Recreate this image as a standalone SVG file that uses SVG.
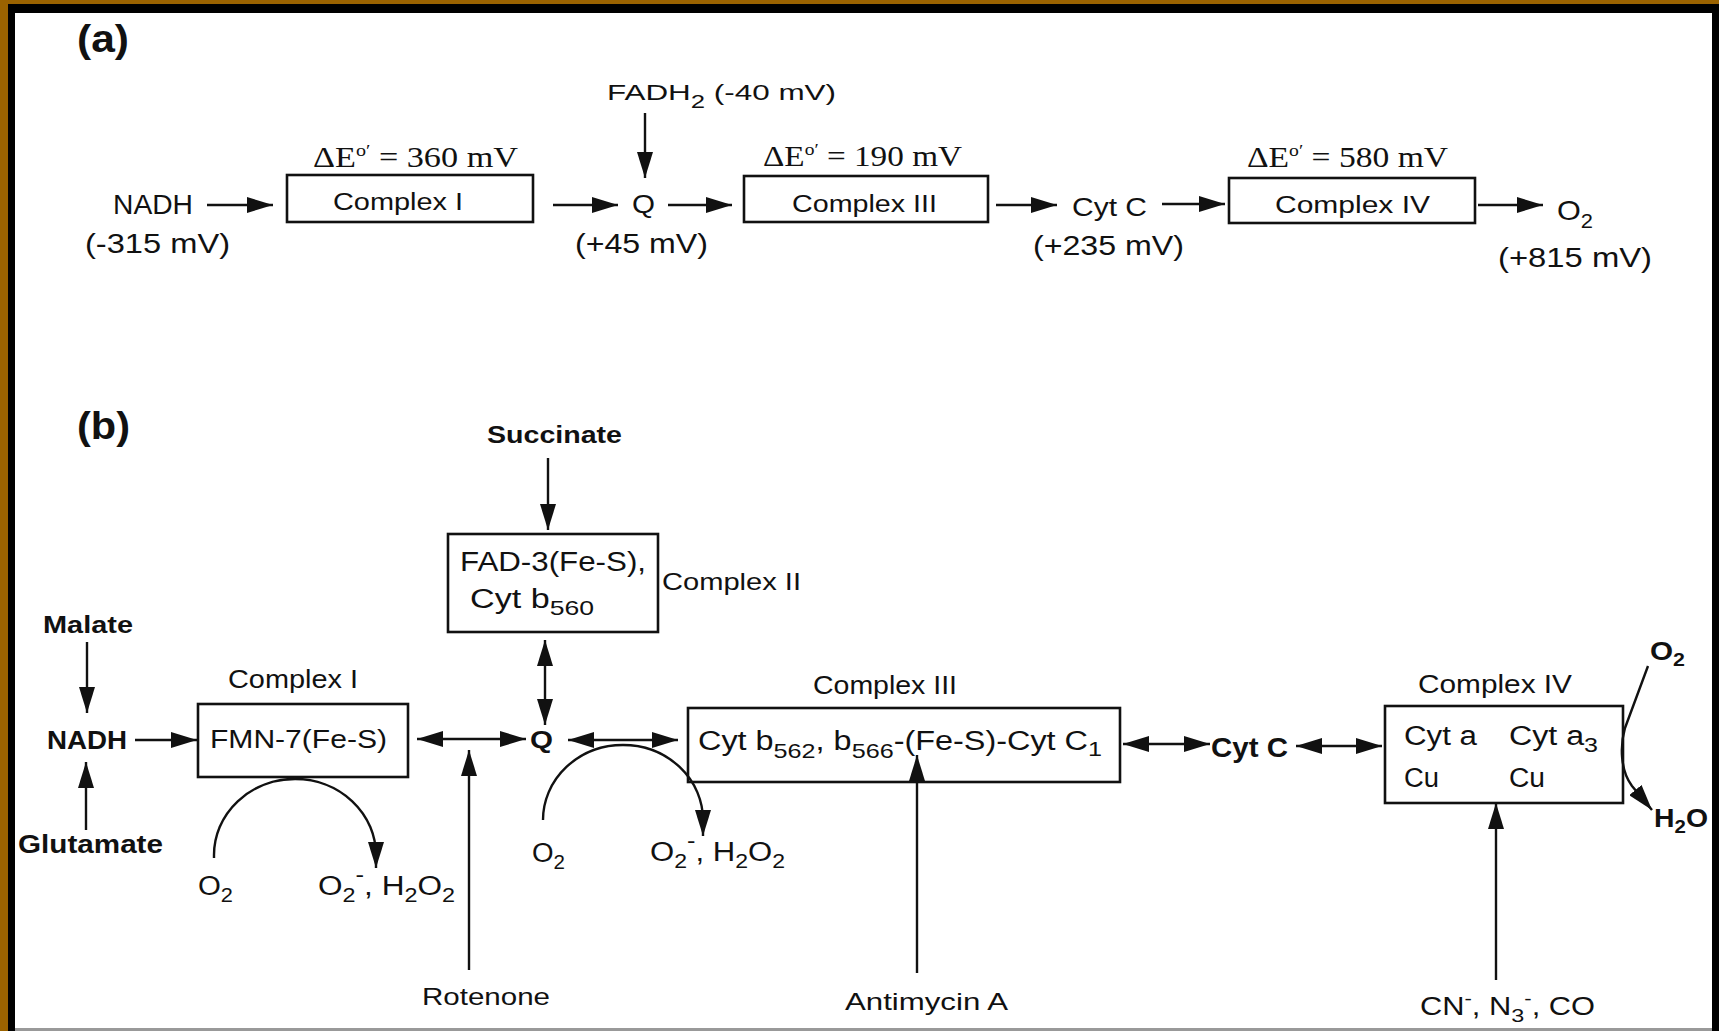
<svg xmlns="http://www.w3.org/2000/svg" width="1719" height="1031" viewBox="0 0 1719 1031">
<style>
text{font-family:"Liberation Sans",Arial,sans-serif;fill:#111}
.b{font-weight:bold}
.s{font-family:"Liberation Serif","Times New Roman",serif}
.box{fill:none;stroke:#111;stroke-width:2.6}
.c{fill:none;stroke:#111;stroke-width:2.4}
.a{marker-end:url(#ah)}
.d{marker-start:url(#ah);marker-end:url(#ah)}
</style>
<defs>
<marker id="ah" viewBox="0 0 26 16" refX="26" refY="8" markerWidth="26" markerHeight="16" markerUnits="userSpaceOnUse" orient="auto-start-reverse"><path d="M0,0 L26,8 L0,16 z" fill="#111"/></marker>
</defs>
<g id="frame">
<rect x="0" y="0" width="1719" height="1031" fill="#9b6300"/>
<rect x="8" y="4" width="1711" height="1027" fill="#000"/>
<rect x="15" y="13" width="1697" height="1015" fill="#fff"/>
<rect x="15" y="1028" width="1697" height="3" fill="#999"/>
</g>
<g id="labels">
<text class="b" x="77" y="52" font-size="38" textLength="52" lengthAdjust="spacingAndGlyphs">(a)</text>
<text class="b" x="77" y="439" font-size="38" textLength="53" lengthAdjust="spacingAndGlyphs">(b)</text>
</g>
<g id="a-nadh"><text x="113" y="214" font-size="28" textLength="80" lengthAdjust="spacingAndGlyphs">NADH</text><text x="85" y="253" font-size="28" textLength="145" lengthAdjust="spacingAndGlyphs">(-315 mV)</text></g>
<g id="a-complex1"><rect class="box" x="287" y="175" width="246" height="47"/><text x="333" y="210" font-size="23" textLength="130" lengthAdjust="spacingAndGlyphs">Complex I</text><text class="s" x="313" y="167" font-size="29" textLength="205" lengthAdjust="spacingAndGlyphs">ΔE<tspan font-size="17" dy="-11">o′</tspan><tspan dy="11"> = 360 mV</tspan></text></g>
<g id="a-fadh2"><text x="607" y="100" font-size="22" textLength="229" lengthAdjust="spacingAndGlyphs">FADH<tspan font-size="18" dy="8">2</tspan><tspan dy="-8"> (-40 mV)</tspan></text></g>
<g id="a-q"><text x="632" y="213" font-size="25" textLength="23" lengthAdjust="spacingAndGlyphs">Q</text><text x="575" y="253" font-size="28" textLength="133" lengthAdjust="spacingAndGlyphs">(+45 mV)</text></g>
<g id="a-complex3"><rect class="box" x="744" y="176" width="244" height="46"/><text x="792" y="212" font-size="23" textLength="145" lengthAdjust="spacingAndGlyphs">Complex III</text><text class="s" x="763" y="166" font-size="29" textLength="199" lengthAdjust="spacingAndGlyphs">ΔE<tspan font-size="17" dy="-11">o′</tspan><tspan dy="11"> = 190 mV</tspan></text></g>
<g id="a-cytc"><text x="1072" y="216" font-size="26" textLength="75" lengthAdjust="spacingAndGlyphs">Cyt C</text><text x="1033" y="255" font-size="28" textLength="151" lengthAdjust="spacingAndGlyphs">(+235 mV)</text></g>
<g id="a-complex4"><rect class="box" x="1229" y="178" width="246" height="45"/><text x="1275" y="213" font-size="23" textLength="155" lengthAdjust="spacingAndGlyphs">Complex IV</text><text class="s" x="1247" y="167" font-size="29" textLength="201" lengthAdjust="spacingAndGlyphs">ΔE<tspan font-size="17" dy="-11">o′</tspan><tspan dy="11"> = 580 mV</tspan></text></g>
<g id="a-o2"><text x="1557" y="220" font-size="28" textLength="36" lengthAdjust="spacingAndGlyphs">O<tspan font-size="20" dy="8">2</tspan></text><text x="1498" y="267" font-size="28" textLength="154" lengthAdjust="spacingAndGlyphs">(+815 mV)</text></g>

<g id="b-succinate"><text class="b" x="487" y="443" font-size="23" textLength="135" lengthAdjust="spacingAndGlyphs">Succinate</text></g>
<g id="b-complex2"><rect class="box" x="448" y="534" width="210" height="98"/><text x="460" y="571" font-size="27" textLength="186" lengthAdjust="spacingAndGlyphs">FAD-3(Fe-S),</text><text x="470" y="608" font-size="27" textLength="124" lengthAdjust="spacingAndGlyphs">Cyt b<tspan font-size="21" dy="7">560</tspan></text><text x="662" y="590" font-size="24" textLength="139" lengthAdjust="spacingAndGlyphs">Complex II</text></g>
<g id="b-malate"><text class="b" x="43" y="633" font-size="23" textLength="90" lengthAdjust="spacingAndGlyphs">Malate</text></g>
<g id="b-nadh"><text class="b" x="47" y="749" font-size="26" textLength="80" lengthAdjust="spacingAndGlyphs">NADH</text></g>
<g id="b-glutamate"><text class="b" x="18" y="853" font-size="25" textLength="145" lengthAdjust="spacingAndGlyphs">Glutamate</text></g>
<g id="b-complex1"><rect class="box" x="198" y="704" width="210" height="73"/><text x="210" y="748" font-size="25" textLength="177" lengthAdjust="spacingAndGlyphs">FMN-7(Fe-S)</text><text x="228" y="688" font-size="25" textLength="130" lengthAdjust="spacingAndGlyphs">Complex I</text></g>
<g id="b-ros1"><text x="198" y="895" font-size="27" textLength="35" lengthAdjust="spacingAndGlyphs">O<tspan font-size="20" dy="7">2</tspan></text><text x="318" y="895" font-size="27" textLength="137" lengthAdjust="spacingAndGlyphs">O<tspan font-size="20" dy="7">2</tspan><tspan font-size="22" dy="-20">-</tspan><tspan dy="13">, H</tspan><tspan font-size="20" dy="7">2</tspan><tspan dy="-7">O</tspan><tspan font-size="20" dy="7">2</tspan></text></g>
<g id="b-rotenone"><text x="422" y="1005" font-size="24" textLength="128" lengthAdjust="spacingAndGlyphs">Rotenone</text></g>
<g id="b-q"><text class="b" x="530" y="748" font-size="24" textLength="23" lengthAdjust="spacingAndGlyphs">Q</text></g>
<g id="b-ros3"><text x="532" y="862" font-size="27" textLength="33" lengthAdjust="spacingAndGlyphs">O<tspan font-size="20" dy="7">2</tspan></text><text x="650" y="861" font-size="27" textLength="135" lengthAdjust="spacingAndGlyphs">O<tspan font-size="20" dy="7">2</tspan><tspan font-size="22" dy="-20">-</tspan><tspan dy="13">, H</tspan><tspan font-size="20" dy="7">2</tspan><tspan dy="-7">O</tspan><tspan font-size="20" dy="7">2</tspan></text></g>
<g id="b-complex3"><rect class="box" x="688" y="708" width="432" height="74"/><text x="813" y="694" font-size="25" textLength="144" lengthAdjust="spacingAndGlyphs">Complex III</text><text x="698" y="750" font-size="27" textLength="404" lengthAdjust="spacingAndGlyphs">Cyt b<tspan font-size="21" dy="8">562</tspan><tspan dy="-8">, b</tspan><tspan font-size="21" dy="8">566</tspan><tspan dy="-8">-(Fe-S)-Cyt C</tspan><tspan font-size="21" dy="6">1</tspan></text></g>
<g id="b-antimycin"><text x="845" y="1010" font-size="24" textLength="163" lengthAdjust="spacingAndGlyphs">Antimycin A</text></g>
<g id="b-cytc"><text class="b" x="1211" y="757" font-size="27" textLength="77" lengthAdjust="spacingAndGlyphs">Cyt C</text></g>
<g id="b-complex4"><rect class="box" x="1385" y="706" width="238" height="97"/><text x="1418" y="693" font-size="25" textLength="154" lengthAdjust="spacingAndGlyphs">Complex IV</text><text x="1404" y="745" font-size="27" textLength="73" lengthAdjust="spacingAndGlyphs">Cyt a</text><text x="1509" y="745" font-size="27" textLength="89" lengthAdjust="spacingAndGlyphs">Cyt a<tspan font-size="21" dy="7">3</tspan></text><text x="1404" y="787" font-size="27" textLength="35" lengthAdjust="spacingAndGlyphs">Cu</text><text x="1509" y="787" font-size="27" textLength="36" lengthAdjust="spacingAndGlyphs">Cu</text></g>
<g id="b-o2"><text class="b" x="1650" y="660" font-size="25" textLength="35" lengthAdjust="spacingAndGlyphs">O<tspan font-size="18" dy="6">2</tspan></text></g>
<g id="b-h2o"><text class="b" x="1654" y="827" font-size="25" textLength="54" lengthAdjust="spacingAndGlyphs">H<tspan font-size="18" dy="6">2</tspan><tspan dy="-6">O</tspan></text></g>
<g id="b-inhibitor4"><text x="1420" y="1015" font-size="25" textLength="175" lengthAdjust="spacingAndGlyphs">CN<tspan font-size="18" dy="-10">-</tspan><tspan dy="10">, N</tspan><tspan font-size="19" dy="7">3</tspan><tspan font-size="18" dy="-17">-</tspan><tspan dy="10">, CO</tspan></text></g>

<g id="connectors">
<line class="c a" x1="207" y1="205" x2="273" y2="205"/>
<line class="c a" x1="553" y1="205" x2="618" y2="205"/>
<line class="c a" x1="645" y1="113" x2="645" y2="178"/>
<line class="c a" x1="668" y1="205" x2="732" y2="205"/>
<line class="c a" x1="996" y1="205" x2="1057" y2="205"/>
<line class="c a" x1="1162" y1="204" x2="1225" y2="204"/>
<line class="c a" x1="1478" y1="205" x2="1543" y2="205"/>

<line class="c a" x1="548" y1="458" x2="548" y2="530"/>
<line class="c d" x1="545" y1="640" x2="545" y2="725"/>
<line class="c a" x1="87" y1="642" x2="87" y2="713"/>
<line class="c a" x1="86" y1="830" x2="86" y2="762"/>
<line class="c a" x1="135" y1="740" x2="197" y2="740"/>
<line class="c d" x1="417" y1="739" x2="526" y2="739"/>
<line class="c a" x1="469" y1="970" x2="469" y2="750"/>
<line class="c d" x1="568" y1="740" x2="678" y2="740"/>
<line class="c a" x1="917" y1="973" x2="917" y2="755"/>
<line class="c d" x1="1123" y1="744" x2="1210" y2="744"/>
<line class="c d" x1="1296" y1="746" x2="1382" y2="746"/>
<line class="c a" x1="1496" y1="980" x2="1496" y2="803"/>
<path class="c a" d="M214 858 L214 855 A81 76 0 0 1 376 855 L376 868"/>
<path class="c a" d="M543 820 A80 75 0 0 1 703 820 L703 836"/>
<path class="c a" d="M1648 666 L1625 728 C1620 745 1620 770 1632 786 L1652 810"/>
</g>
</svg>
